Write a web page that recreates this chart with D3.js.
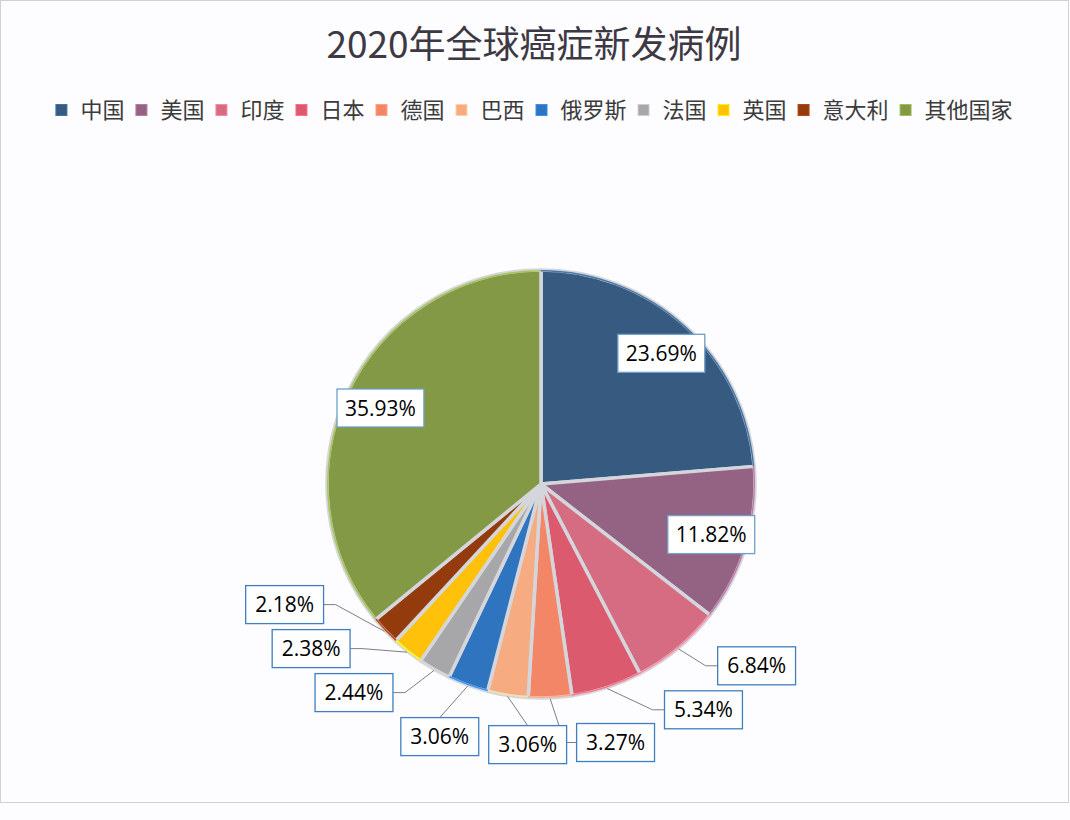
<!DOCTYPE html>
<meta charset="UTF-8">
<style>
  body { margin: 0; background: #fdfcfe; }
  svg { display: block; }
</style>
<svg width="1070" height="820"></svg>
<script src="https://cdn.jsdelivr.net/npm/d3@7/dist/d3.min.js"></script>
<script>

var countries = ["中国", "美国", "印度", "日本", "德国", "巴西", "俄罗斯", "法国", "英国", "意大利", "其他国家"];
var shares = [23.69, 11.82, 6.84, 5.34, 3.27, 3.06, 3.06, 2.44, 2.38, 2.18, 35.93];
var colors = ["#375b80", "#946383", "#d56c82", "#dc5a6d", "#f48668", "#f6ac80", "#2f74be", "#a7a7aa", "#ffc10a", "#943b0d", "#839946"];
var title = "2020年全球癌症新发病例";

var svg = d3.select("svg"),
    width = +svg.attr("width"),
    cx = 541, cy = 484, radius = 214;

svg.append("rect")
    .attr("x", 0.5).attr("y", 0.5)
    .attr("width", width - 2).attr("height", 802)
    .attr("fill", "#fdfcfe")
    .attr("stroke", "#cfd0d8");

svg.append("text")
    .attr("x", 534).attr("y", 58)
    .attr("text-anchor", "middle")
    .attr("font-family", "Noto Sans CJK SC")
    .attr("font-size", 37)
    .attr("fill", "#3d3944")
    .text(title);

// legend, laid out left to right then centred
var legend = svg.append("g");
var lx = 0;
countries.forEach(function(c, i) {
    var item = legend.append("g").attr("transform", "translate(" + lx + ",0)");
    item.append("rect")
        .attr("x", 0.5).attr("y", -5.5)
        .attr("width", 11).attr("height", 11)
        .attr("fill", colors[i])
        .attr("stroke", d3.color(colors[i]).brighter(0.6))
        .attr("stroke-width", 1);
    var t = item.append("text")
        .attr("x", 25).attr("y", 8)
        .attr("font-family", "Noto Sans CJK SC")
        .attr("font-size", 22)
        .attr("fill", "#3b3b3b")
        .text(c);
    lx += 25 + t.node().getComputedTextLength() + 11;
});
legend.attr("transform", "translate(" + (534 - (lx - 11) / 2) + ",110)");

// pie
var pie = d3.pie().sort(null).value(function(d) { return d; });
var arc = d3.arc().innerRadius(0).outerRadius(radius);
var arcs = pie(shares);

var g = svg.append("g").attr("transform", "translate(" + cx + "," + cy + ")");

g.selectAll("path.slice")
    .data(arcs)
    .enter().append("path")
    .attr("class", "slice")
    .attr("d", arc)
    .attr("fill", function(d, i) { return colors[i]; })
    .attr("stroke", "#d4d6dc")
    .attr("stroke-width", 3.5)
    .attr("stroke-linejoin", "round");

g.selectAll("path.rim")
    .data(arcs)
    .enter().append("path")
    .attr("class", "rim")
    .attr("d", d3.arc().innerRadius(radius - 1.5).outerRadius(radius))
    .attr("fill", function(d, i) { return d3.color(colors[i]).brighter(0.7); });

// labels
var labels = arcs.map(function(d, i) {
    var mid = (d.startAngle + d.endAngle) / 2;
    return { i: i, mid: mid, inside: d.value >= 10, text: d.value.toFixed(2) + "%" };
});

// distance from the centre that keeps a box clear of the pie by `gap`
function clearDist(l, ang, gap) {
    return radius + gap + l.w / 2 * Math.abs(Math.sin(ang)) + l.h / 2 * Math.abs(Math.cos(ang));
}

var lg = svg.append("g");
labels.forEach(function(l) {
    var t = lg.append("text")
        .attr("font-family", "Open Sans")
        .attr("font-size", 21)
        .attr("fill", "#000")
        .attr("text-anchor", "middle")
        .text(l.text);
    l.node = t;
    l.w = t.node().getComputedTextLength() + (l.inside ? 16 : 19);
    l.h = 38;
    var rr = l.inside ? radius * 0.83 : clearDist(l, l.mid, 26);
    l.x = cx + rr * Math.sin(l.mid);
    l.y = cy - rr * Math.cos(l.mid);
});

// spread the outer boxes along the ring until they stop overlapping
var outer = labels.filter(function(l) { return !l.inside; });
for (var it = 0; it < 500; it++) {
    for (var a = 0; a < outer.length; a++) {
        for (var b = a + 1; b < outer.length; b++) {
            var p = outer[a], q = outer[b];
            var dx = q.x - p.x, dy = q.y - p.y;
            var W = (p.w + q.w) / 2 + 10, H = (p.h + q.h) / 2 + 6;
            if (Math.abs(dx) >= W || Math.abs(dy) >= H) continue;
            var m = (p.mid + q.mid) / 2, tx = Math.cos(m), ty = Math.sin(m);
            var sx = Math.abs(tx) < 1e-6 ? Infinity : ((tx > 0 ? W : -W) - dx) / tx;
            var sy = Math.abs(ty) < 1e-6 ? Infinity : ((ty > 0 ? H : -H) - dy) / ty;
            var s = Math.min(sx, sy) / 2;
            p.x -= s * tx; p.y -= s * ty;
            q.x += s * tx; q.y += s * ty;
        }
    }
    outer.forEach(function(l) {
        var rx = l.x - cx, ry = l.y - cy, dist = Math.sqrt(rx * rx + ry * ry);
        var ang = Math.atan2(rx, -ry);
        if (ang < 0) ang += 2 * Math.PI;
        if (it < 440) ang += (l.mid - ang) * 0.03;
        var ring = clearDist(l, ang, 26);
        dist = Math.max(clearDist(l, ang, 10), dist + (ring - dist) * 0.3);
        l.x = cx + dist * Math.sin(ang);
        l.y = cy - dist * Math.cos(ang);
    });
}

// leader lines
outer.forEach(function(l) {
    var px = cx + (radius + 1) * Math.sin(l.mid),
        py = cy - (radius + 1) * Math.cos(l.mid);
    var pts;
    if (l.x - l.w / 2 > px + 6) {
        pts = [[px, py], [l.x - l.w / 2 - 12, l.y], [l.x - l.w / 2, l.y]];
    } else if (l.x + l.w / 2 < px - 6) {
        pts = [[px, py], [l.x + l.w / 2 + 12, l.y], [l.x + l.w / 2, l.y]];
    } else {
        pts = [[px, py], [l.x, l.y - l.h / 2]];
    }
    lg.insert("path", "text")
        .attr("d", d3.line()(pts))
        .attr("fill", "none")
        .attr("stroke", "#7f7f7f")
        .attr("stroke-width", 1);
});

labels.forEach(function(l) {
    lg.insert("rect", "text")
        .attr("x", l.x - l.w / 2).attr("y", l.y - l.h / 2)
        .attr("width", l.w).attr("height", l.h)
        .attr("fill", "#fff")
        .attr("stroke", l.inside ? "#6f9fc8" : "#3f7fbf")
        .attr("stroke-width", 1.3);
    l.node.attr("x", l.x).attr("y", l.y + 7.5).raise();
});

</script>
